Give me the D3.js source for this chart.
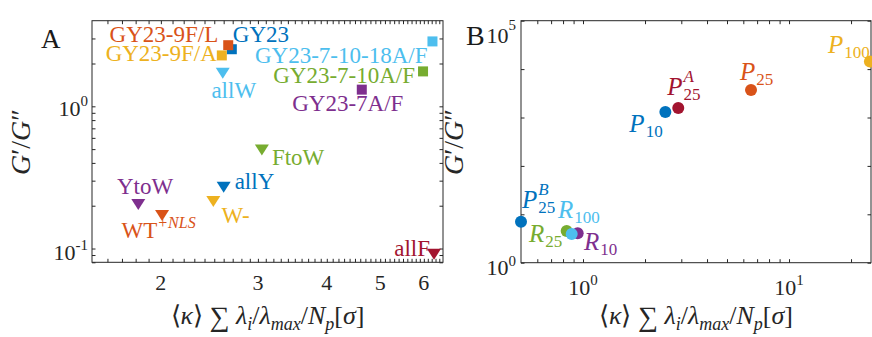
<!DOCTYPE html>
<html>
<head>
<meta charset="utf-8">
<script src="https://cdn.jsdelivr.net/npm/d3@7"></script>
<style>
  body { margin: 0; background: #fff; }
  svg { display: block; }
  text { font-family: "Liberation Serif", "Times New Roman", serif; }
</style>
</head>
<body>
<svg id="chart" width="872" height="337"></svg>
<script>
// ---- panel A data: squares (GY23 variants) ----
const sqNames = ["GY23", "GY23-9F/L", "GY23-9F/A", "GY23-7-10-18A/F", "GY23-7-10A/F", "GY23-7A/F"];
const sqX = [2.69, 2.65, 2.58, 6.22, 5.98, 4.63];
const sqY = [2.52, 2.69, 2.28, 2.86, 1.76, 1.31];
const sqColors = ["#0072BD", "#D95319", "#EDB120", "#4DBEEE", "#77AC30", "#7E2F8E"];

// ---- panel A data: down triangles ----
const triNames = ["allW", "FtoW", "allY", "YtoW", "WT", "W-", "allF"];
const triX = [2.59, 3.05, 2.60, 1.82, 2.01, 2.49, 6.26];
const triY = [1.71, 0.492, 0.270, 0.204, 0.171, 0.214, 0.091];
const triColors = ["#4DBEEE", "#77AC30", "#0072BD", "#7E2F8E", "#D95319", "#EDB120", "#A2142F"];

// ---- panel B data: circles ----
const cBase = ["P", "P", "P", "P", "P", "R", "R", "R"];
const cSub = ["10", "25", "25", "100", "25", "25", "10", "100"];
const cSup = ["", "A", "", "", "B", "", "", ""];
const cX = [2.51, 2.90, 6.54, 24.7, 0.5, 0.833, 0.942, 0.881];
const cY = [1303, 1577, 3715, 14280, 7.04, 4.52, 4.05, 3.92];
const cColors = ["#0072BD", "#A2142F", "#D95319", "#EDB120", "#0072BD", "#77AC30", "#7E2F8E", "#4DBEEE"];

// tick values
const aXMajor = [2, 3, 4, 5, 6];
const aYMajor = [0.1, 1];
const bXMajor = [1, 10];
const bYMajor = [1, 10, 100, 1e3, 1e4, 1e5];

// label placement (pixel offsets from the mark, anchor)
const sqLab = [[1, -7, "start"], [-10, -3, "end"], [-5, 6, "end"], [-5, 21.6, "end"], [-8, 11.6, "end"], [-14, 21.7, "middle"]];
const triLab = [[11, 24.8, "middle"], [10, 14.5, "start"], [11, 1.8, "start"], [6.7, -10, "middle"], [-40.5, 22.5, "start"], [8.3, 21, "start"], [-4, 2, "end"]];
const cLab = [[-36, 20], [-11, -13], [-11, -10], [-42, -8.7], [1, -13.7], [-37.7, 11], [6.3, 16.7], [-13.7, -16]];

const svg = d3.select("#chart");
const axisColor = "#262626";
const labSize = 23;

const xA = d3.scaleLog().domain([1.5, 6.5]).range([92, 443]);
const yA = d3.scaleLog().domain([0.08, 4]).range([262.3, 20.7]);
const xB = d3.scaleLog().domain([0.5, 25]).range([521, 871]);
const yB = d3.scaleLog().domain([1, 1e5]).range([262.7, 20.7]);

const notInt = (v) => Math.abs(v - Math.round(v)) > 1e-6;
const aXMinor = d3.range(1.6, 2, 0.1).concat(d3.range(2.1, 6.45, 0.1)).filter(notInt);
const aYMinor = [0.08, 0.09, 0.2, 0.3, 0.4, 0.5, 0.6, 0.7, 0.8, 0.9, 2, 3];
const bXMinor = [0.6, 0.7, 0.8, 0.9, 2, 3, 4, 5, 6, 7, 8, 9, 20];

function frame(x, y, xTicks, yTicks) {
  const [x0, x1] = x.range();
  const [y0, y1] = y.range();
  const t = 3.5;
  const g = svg.append("g");
  const fmt = () => "";
  g.append("g").attr("transform", `translate(0,${y0})`)
    .call(d3.axisBottom(x).tickValues(xTicks).tickSize(-t).tickFormat(fmt));
  g.append("g").attr("transform", `translate(0,${y1})`)
    .call(d3.axisTop(x).tickValues(xTicks).tickSize(-t).tickFormat(fmt));
  g.append("g").attr("transform", `translate(${x0},0)`)
    .call(d3.axisLeft(y).tickValues(yTicks).tickSize(-t).tickFormat(fmt));
  g.append("g").attr("transform", `translate(${x1},0)`)
    .call(d3.axisRight(y).tickValues(yTicks).tickSize(-t).tickFormat(fmt));
  g.selectAll(".domain").remove();
  g.selectAll(".tick line").attr("stroke", axisColor).attr("stroke-width", 1);
  g.append("rect")
    .attr("x", x0).attr("y", y1).attr("width", x1 - x0).attr("height", y0 - y1)
    .attr("fill", "none").attr("stroke", axisColor).attr("stroke-width", 1);
}

function pow10(x, y, exp, anchor, supDy) {
  const t = svg.append("text").attr("x", x).attr("y", y)
    .attr("text-anchor", anchor).attr("fill", axisColor).attr("font-size", 22);
  t.append("tspan").text("10");
  t.append("tspan").attr("font-size", 15).attr("dy", supDy).text(exp);
}

function xLabel(cx) {
  const t = svg.append("text").attr("x", cx).attr("y", 324)
    .attr("text-anchor", "middle").attr("fill", axisColor).attr("font-size", 26);
  const it = (s) => t.append("tspan").attr("font-style", "italic").text(s);
  const sub = (s) => t.append("tspan").attr("font-style", "italic").attr("font-size", 18).attr("dy", 6).text(s);
  t.append("tspan").text("\u27E8");
  it("\u03BA");
  t.append("tspan").text("\u27E9 ");
  t.append("tspan").attr("font-size", 28).attr("dy", 2).text("\u2211");
  t.append("tspan").attr("dy", -2).text(" ");
  it("\u03BB");
  sub("i");
  t.append("tspan").attr("dy", -6).text("/");
  it("\u03BB");
  sub("max");
  t.append("tspan").attr("dy", -6).text("/");
  it("N");
  sub("p");
  t.append("tspan").attr("dy", -6).text("[");
  it("\u03C3");
  t.append("tspan").text("]");
}

function yLabel(cx, cy) {
  const t = svg.append("text").attr("transform", `translate(${cx},${cy}) rotate(-90)`)
    .attr("text-anchor", "middle").attr("fill", axisColor).attr("font-size", 28);
  t.append("tspan").attr("font-style", "italic").text("G");
  t.append("tspan").text("\u2032/");
  t.append("tspan").attr("font-style", "italic").text("G");
  t.append("tspan").text("\u2033");
}

// ---------- panel A ----------
frame(xA, yA, aXMajor.concat(aXMinor), aYMajor.concat(aYMinor));

aXMajor.forEach((v) => {
  svg.append("text").attr("x", xA(v)).attr("y", 290).attr("text-anchor", "middle")
    .attr("fill", axisColor).attr("font-size", 22).text(v);
});
pow10(88, yA(1) + 10, "0", "end", -10);
pow10(88, yA(0.1) + 11, "-1", "end", -10);

xLabel((xA.range()[0] + xA.range()[1]) / 2);
yLabel(30, 142);

svg.append("text").attr("x", 41).attr("y", 47.7).attr("font-size", 27).attr("fill", "#1a1a1a").text("A");

const gA = svg.append("g");
gA.selectAll("rect.sq").data(sqNames).join("rect").attr("class", "sq")
  .attr("x", (d, i) => xA(sqX[i]) - 5).attr("y", (d, i) => yA(sqY[i]) - 5)
  .attr("width", 10).attr("height", 10).attr("fill", (d, i) => sqColors[i]);

gA.selectAll("path.tri").data(triNames).join("path").attr("class", "tri")
  .attr("transform", (d, i) => `translate(${xA(triX[i])},${yA(triY[i])})`)
  .attr("d", "M-7,-5.5L7,-5.5L0,5.5Z").attr("fill", (d, i) => triColors[i]);

gA.selectAll("text.sqlab").data(sqNames).join("text").attr("class", "sqlab")
  .attr("x", (d, i) => xA(sqX[i]) + sqLab[i][0]).attr("y", (d, i) => yA(sqY[i]) + sqLab[i][1])
  .attr("text-anchor", (d, i) => sqLab[i][2]).attr("font-size", labSize)
  .attr("fill", (d, i) => sqColors[i]).text((d) => d);

gA.selectAll("text.trilab").data(triNames).join("text").attr("class", "trilab")
  .attr("x", (d, i) => xA(triX[i]) + triLab[i][0]).attr("y", (d, i) => yA(triY[i]) + triLab[i][1])
  .attr("text-anchor", (d, i) => triLab[i][2]).attr("font-size", labSize)
  .attr("fill", (d, i) => triColors[i])
  .each(function (d) {
    const t = d3.select(this);
    t.append("tspan").text(d);
    if (d === "WT") {
      t.append("tspan").attr("dy", -10).attr("font-size", 16).attr("font-style", "italic").text("+NLS");
    }
  });

// ---------- panel B ----------
frame(xB, yB, bXMajor.concat(bXMinor), bYMajor);

pow10(xB(1), 295, "0", "middle", -10);
pow10(xB(10), 295, "1", "middle", -10);
pow10(516, 275, "0", "end", -9);
pow10(516, 43, "5", "end", -13);

xLabel((xB.range()[0] + xB.range()[1]) / 2);
yLabel(463, 142);

svg.append("text").attr("x", 466).attr("y", 45).attr("font-size", 28).attr("fill", "#1a1a1a").text("B");

const gB = svg.append("g");
gB.selectAll("circle").data(cBase).join("circle")
  .attr("cx", (d, i) => xB(cX[i])).attr("cy", (d, i) => yB(cY[i])).attr("r", 6)
  .attr("fill", (d, i) => cColors[i]);

cBase.forEach((b, i) => {
  const px = xB(cX[i]) + cLab[i][0];
  const py = yB(cY[i]) + cLab[i][1];
  const main = gB.append("text").attr("x", px).attr("y", py).attr("font-size", 25)
    .attr("font-style", "italic").attr("fill", cColors[i]).text(b);
  const w = main.node().getComputedTextLength() + 1;
  gB.append("text").attr("x", px + w).attr("y", py + 5).attr("font-size", 17)
    .attr("fill", cColors[i]).text(cSub[i]);
  if (cSup[i]) {
    gB.append("text").attr("x", px + w).attr("y", py - 13).attr("font-size", 17)
      .attr("font-style", "italic").attr("fill", cColors[i]).text(cSup[i]);
  }
});
</script>
</body>
</html>
